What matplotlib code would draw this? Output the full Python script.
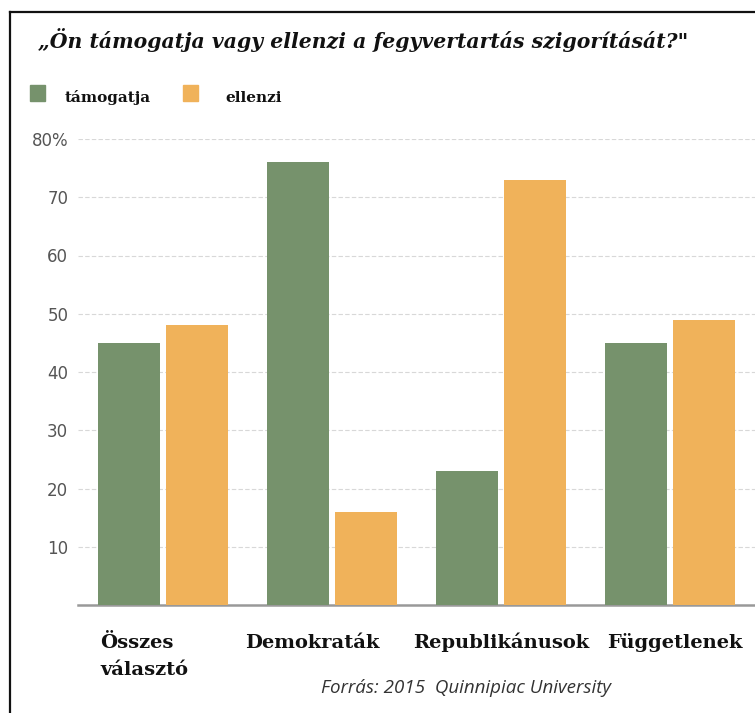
"""Fegyvertartás szigorítása: támogatja / ellenzi csoportonként."""

import matplotlib

matplotlib.use("Agg")
import matplotlib.pyplot as plt  # noqa: E402
import numpy as np  # noqa: E402
from matplotlib.lines import Line2D  # noqa: E402
from matplotlib.patches import Rectangle  # noqa: E402

categories = ["Összes\nválasztó", "Demokraták", "Republikánusok", "Függetlenek"]
support = [45, 76, 23, 45]
oppose = [48, 16, 73, 49]
y_ticks = [10, 20, 30, 40, 50, 60, 70, 80]
y_labels = ["10", "20", "30", "40", "50", "60", "70", "80%"]

GREEN = "#76926c"
ORANGE = "#f0b25a"
SERIF = "DejaVu Serif"
W, H = 755, 713

fig = plt.figure(figsize=(W / 100, H / 100), dpi=100)
fig.patch.set_facecolor("white")


def fx(px):
    return px / W


def fy(py):
    return 1 - py / H


ax = fig.add_axes([fx(78), fy(605), 1 - fx(78), fy(139) - fy(605)])
x = np.arange(len(categories))
bw = 0.367
off = 0.201
ax.bar(x - off, support, bw, color=GREEN, zorder=3)
ax.bar(x + off, oppose, bw, color=ORANGE, zorder=3)
ax.set_xlim(-0.5, 3.5)
ax.set_ylim(0, 80)
ax.set_yticks(y_ticks)
ax.set_yticklabels(y_labels, fontsize=12, color="#555555", family="DejaVu Sans")
ax.set_xticks([])
ax.tick_params(axis="y", length=0, pad=7)
ax.grid(axis="y", color="#d8d8d8", linewidth=0.8, linestyle=(0, (4, 2)), zorder=0)
ax.set_axisbelow(True)
for side in ["top", "right", "left"]:
    ax.spines[side].set_visible(False)
ax.spines["bottom"].set_color("#999999")
ax.spines["bottom"].set_linewidth(1.8)

# category labels below the axis, left aligned
label_x = [100, 245, 413, 607]
for lx, lab in zip(label_x, categories):
    fig.text(fx(lx), fy(648), lab.split("\n")[0], ha="left", va="baseline",
             fontsize=14, fontweight="bold", family=SERIF, color="#111111")
    if "\n" in lab:
        fig.text(fx(lx), fy(675), lab.split("\n")[1], ha="left", va="baseline",
                 fontsize=14, fontweight="bold", family=SERIF, color="#111111")

fig.text(fx(466), fy(688), "Forrás: 2015  Quinnipiac University", ha="center",
         va="center", fontsize=13.5, style="italic", family="Open Sans",
         color="#333333")

# title
fig.text(fx(38), fy(48), "„Ön támogatja vagy ellenzi a fegyvertartás szigorítását?\"",
         ha="left", va="baseline", fontsize=14.7, fontweight="bold", style="italic",
         family=SERIF, color="#111111")

# legend
fig.patches.append(Rectangle((fx(30), fy(101)), fx(15), fy(85) - fy(101),
                             transform=fig.transFigure, color=GREEN))
fig.patches.append(Rectangle((fx(183), fy(101)), fx(15), fy(85) - fy(101),
                             transform=fig.transFigure, color=ORANGE))
fig.text(fx(65), fy(102), "támogatja", ha="left", va="baseline", fontsize=11,
         fontweight="bold", family=SERIF, color="#111111")
fig.text(fx(225), fy(102), "ellenzi", ha="left", va="baseline", fontsize=11,
         fontweight="bold", family=SERIF, color="#111111")

# frame
fig.lines.append(Line2D([fx(10), fx(10)], [fy(12), 0], transform=fig.transFigure,
                        color="#111111", linewidth=1.6))
fig.lines.append(Line2D([fx(10), 1], [fy(12), fy(12)], transform=fig.transFigure,
                        color="#111111", linewidth=1.6))

fig.savefig("out.png", dpi=100)
